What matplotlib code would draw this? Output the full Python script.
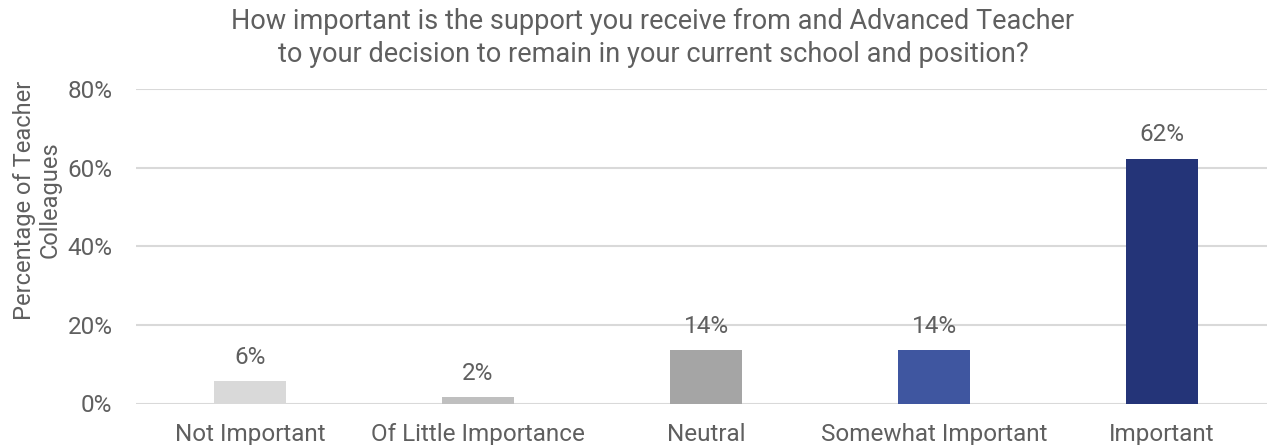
import matplotlib
matplotlib.use("Agg")
import matplotlib.pyplot as plt
from matplotlib.ticker import PercentFormatter

categories = ["Not Important", "Of Little Importance", "Neutral",
              "Somewhat Important", "Important"]
values = [5.7, 1.6, 13.6, 13.6, 62.2]
colors = ["#d9d9d9", "#bfbfbf", "#a5a5a5", "#3f56a0", "#243478"]
yticks = [0, 20, 40, 60, 80]
title = ("How important is the support you receive from and Advanced Teacher\n"
         "to your decision to remain in your current school and position?")
ylabel = "Percentage of Teacher\nColleagues"

text_color = "#5f5f5f"
grid_color = "#d9d9d9"
plt.rcParams["font.family"] = ["Roboto", "DejaVu Sans"]

fig = plt.figure(figsize=(12.67, 4.45), dpi=100)
ax = fig.add_axes([136 / 1267, 1 - 403.5 / 445, 1140 / 1267, (403.5 - 89) / 445])

x = list(range(len(categories)))
bars = ax.bar(x, values, width=0.316, color=colors, zorder=3)

for rect, v in zip(bars, values):
    ax.annotate(f"{v:.0f}%", (rect.get_x() + rect.get_width() / 2, rect.get_height()),
                xytext=(0, 9), textcoords="offset points", ha="center", va="bottom",
                fontsize=17.5, color=text_color)

ax.set_xlim(-0.5, len(categories) - 0.5)
ax.set_ylim(0, 80)
ax.set_yticks(yticks)
ax.yaxis.set_major_formatter(PercentFormatter(decimals=0))
ax.set_xticks(x)
ax.set_xticklabels(categories)
ax.tick_params(axis="y", length=0, labelsize=17.5, labelcolor=text_color, pad=17)
ax.tick_params(axis="x", length=0, labelsize=17.5, labelcolor=text_color, pad=14)
ax.grid(axis="y", color=grid_color, linewidth=1.5, zorder=0)
for s in ax.spines.values():
    s.set_visible(False)

fig.text(653 / 1267, 1 - 38 / 445, title, ha="center", va="center",
         fontsize=19.5, color=text_color, linespacing=1.3)
fig.text(37 / 1267, 1 - 200 / 445, ylabel, ha="center", va="center", rotation=90,
         fontsize=17, color=text_color, linespacing=1.15)

fig.savefig("out.png", dpi=100, facecolor="white")
